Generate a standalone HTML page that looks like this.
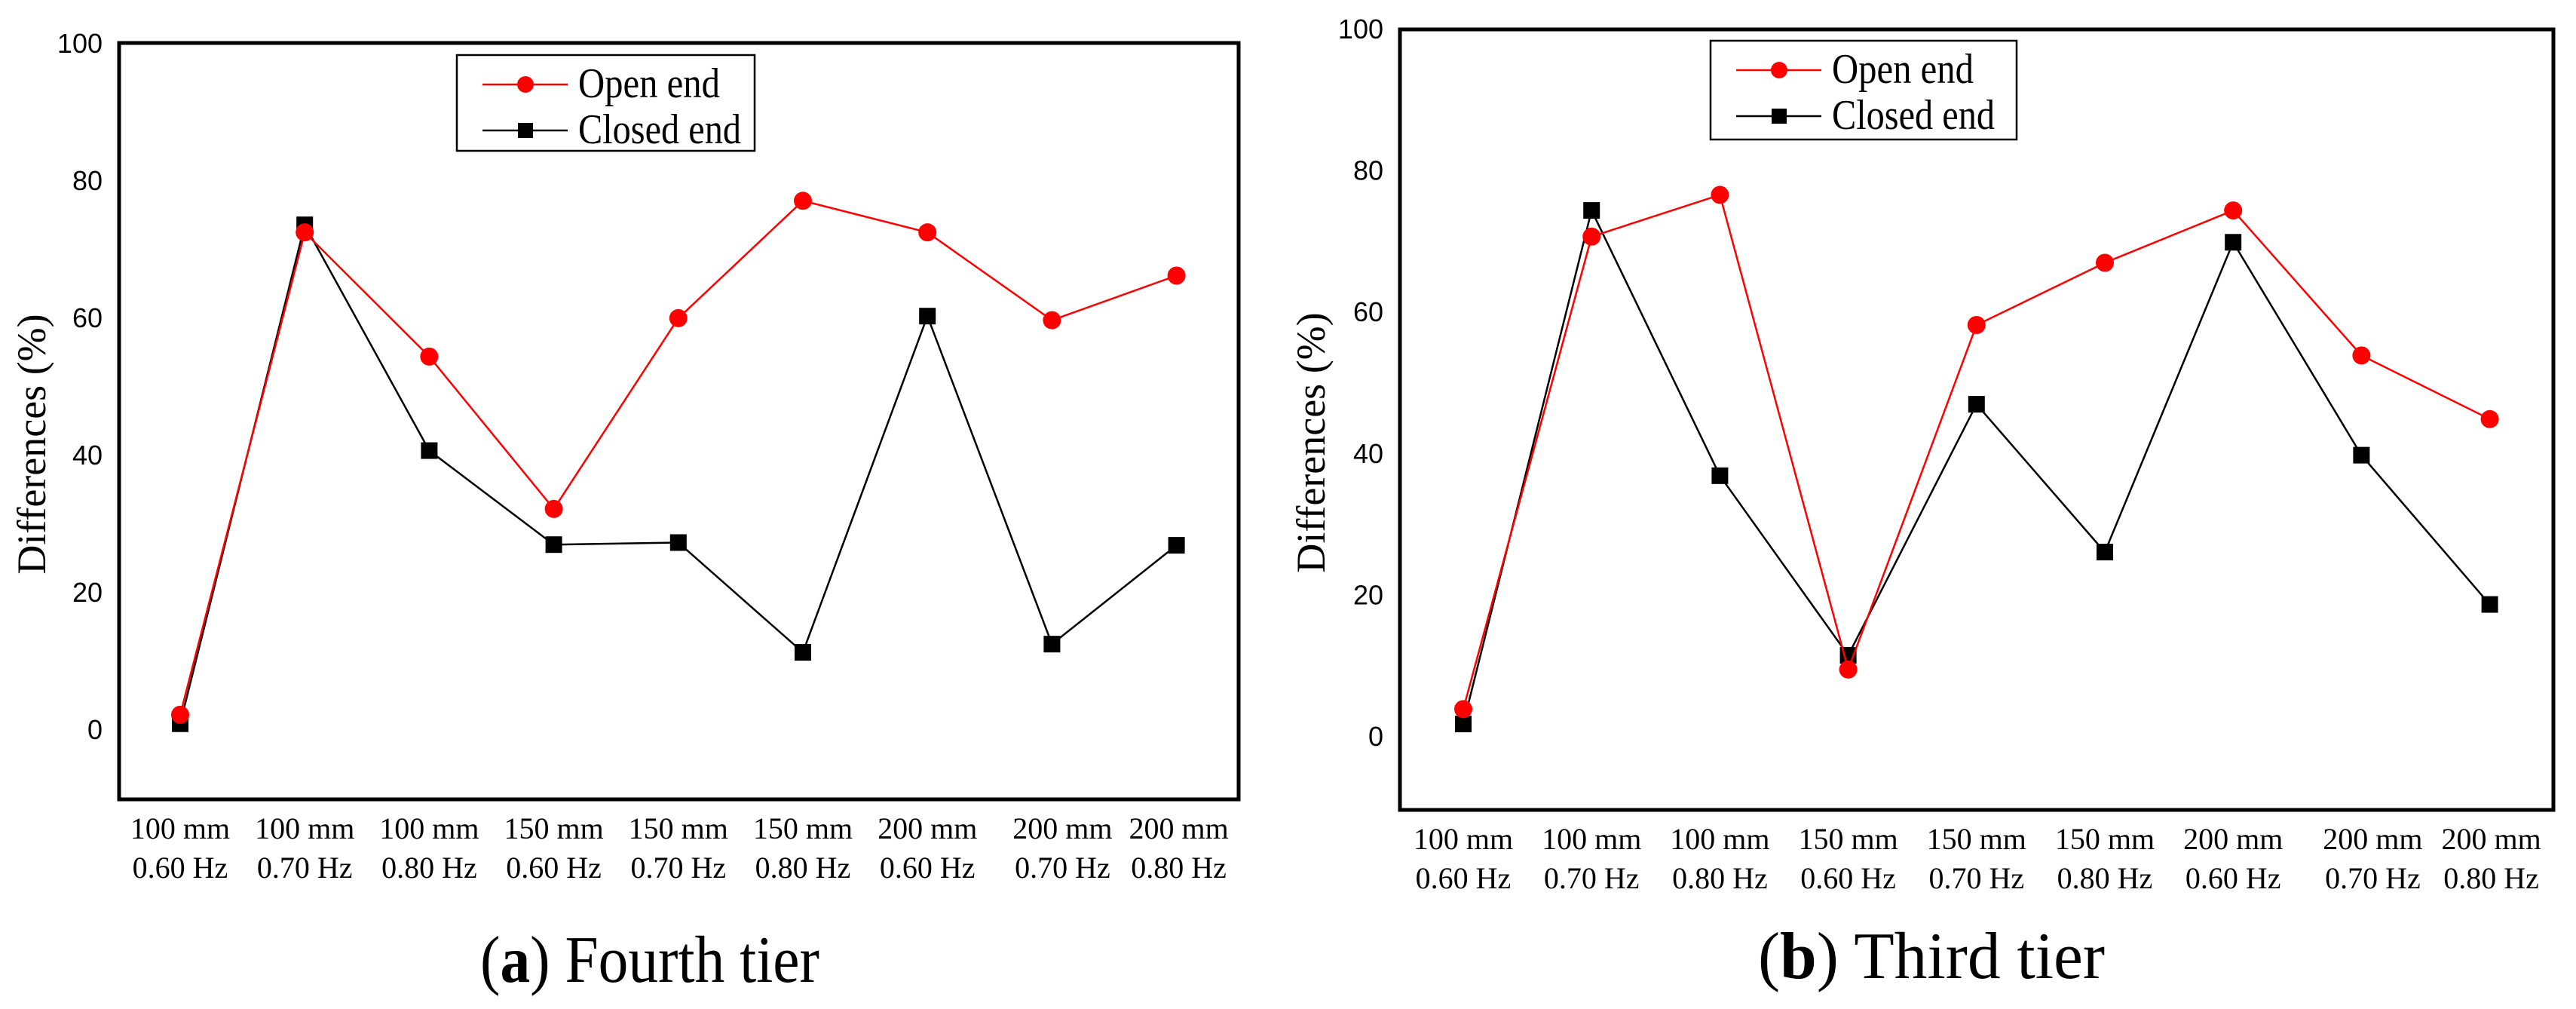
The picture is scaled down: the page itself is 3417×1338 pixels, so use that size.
<!DOCTYPE html>
<html><head><meta charset="utf-8">
<style>
html,body{margin:0;padding:0;background:#fff;}
svg{display:block;}
text{font-family:"Liberation Serif",serif;fill:#000;}
.tick{font-family:"Liberation Sans",sans-serif;font-size:36px;}
</style></head>
<body>
<svg id="fig" width="3417" height="1338" viewBox="0 0 3417 1338" xmlns="http://www.w3.org/2000/svg"></svg>
<script>
const categoriesL1 = ["100 mm","100 mm","100 mm","150 mm","150 mm","150 mm","200 mm","200 mm","200 mm"];
const categoriesL2 = ["0.60 Hz","0.70 Hz","0.80 Hz","0.60 Hz","0.70 Hz","0.80 Hz","0.60 Hz","0.70 Hz","0.80 Hz"];
const yTicks = [0,20,40,60,80,100];
const fourthOpen = [2.1,72.4,54.3,32.1,59.9,77.0,72.4,59.6,66.1];
const fourthClosed = [0.8,73.5,40.6,26.9,27.2,11.2,60.2,12.4,26.8];
const thirdOpen = [3.8,70.6,76.5,9.4,58.1,66.9,74.3,53.8,44.8];
const thirdClosed = [1.7,74.3,36.8,11.4,46.9,26.0,69.8,39.7,18.6];

const NS = "http://www.w3.org/2000/svg";
const svg = document.getElementById('fig');
function mk(tag, attrs, parent){
  const e = document.createElementNS(NS, tag);
  for (const k in attrs) e.setAttribute(k, attrs[k]);
  (parent||svg).appendChild(e);
  return e;
}
function panel(cfg){
  const g = mk('g', {});
  
  
  const y = v => cfg.y0 - v * cfg.ky;
  const x = i => cfg.x0 + i * cfg.dx;
  const box = mk('rect', {x:cfg.L, y:cfg.T, width:cfg.R-cfg.L, height:cfg.B-cfg.T, fill:'none', stroke:'#000', 'stroke-width':5}, g);
  
  
  yTicks.forEach(v => {
    const t = mk('text', {x:cfg.tickX, y:y(v)+13, 'text-anchor':'end', class:'tick'}, g);
    t.textContent = v;
    
    
  });
  const yt = mk('text', {x:0, y:0, 'text-anchor':'middle', 'font-size':54, transform:`translate(${cfg.ytX},${cfg.ytY}) rotate(-90)`}, g);
  yt.textContent = 'Differences (%)';
  
  
  categoriesL1.forEach((c, i) => {
    const t = mk('text', {x:x(i)+(cfg.lblShift[i]||0), y:cfg.lblY, 'text-anchor':'middle', 'font-size':40}, g);
    
    
    const a = mk('tspan', {x:x(i)+(cfg.lblShift[i]||0), dy:0}, t); a.textContent = c;
    const b = mk('tspan', {x:x(i)+(cfg.lblShift[i]||0), dy:52}, t); b.textContent = categoriesL2[i];
  });
  const pc = mk('polyline', {points: cfg.closed.map((v,i)=>x(i)+','+y(v)).join(' '), fill:'none', stroke:'#000', 'stroke-width':2.5}, g);
  
  
  cfg.closed.forEach((v,i) => {
    const r = mk('rect', {x:x(i)-11, y:y(v)-11, width:22, height:22, fill:'#000'}, g);
    
    
  });
  const po = mk('polyline', {points: cfg.open.map((v,i)=>x(i)+','+y(v)).join(' '), fill:'none', stroke:'#f00', 'stroke-width':2.5}, g);
  
  
  cfg.open.forEach((v,i) => {
    const c = mk('circle', {cx:x(i), cy:y(v), r:12, fill:'#f00'}, g);
    
    
  });
  const lg = mk('g', {}, g);
  
  
  const Lx = cfg.legX, Ly = cfg.legY;
  mk('rect', {x:Lx, y:Ly, width:cfg.legW, height:cfg.legH, fill:'#fff', stroke:'#000', 'stroke-width':2.5}, lg);
  const e1 = mk('g', {}, lg);
  
  
  mk('line', {x1:Lx+34, x2:Lx+147, y1:Ly+39, y2:Ly+39, stroke:'#f00', 'stroke-width':2.5}, e1);
  mk('circle', {cx:Lx+91, cy:Ly+39, r:11, fill:'#f00'}, e1);
  const t1 = mk('text', {x:Lx+161, y:Ly+56, 'font-size':56, textLength:188, lengthAdjust:'spacingAndGlyphs'}, e1);
  t1.textContent = 'Open end';
  const e2 = mk('g', {}, lg);
  
  
  mk('line', {x1:Lx+34, x2:Lx+147, y1:Ly+100, y2:Ly+100, stroke:'#000', 'stroke-width':2.5}, e2);
  mk('rect', {x:Lx+81, y:Ly+90, width:20, height:20, fill:'#000'}, e2);
  const t2 = mk('text', {x:Lx+161, y:Ly+117, 'font-size':56, textLength:216, lengthAdjust:'spacingAndGlyphs'}, e2);
  t2.textContent = 'Closed end';
  const cap = mk('text', {x:cfg.capX - cfg.capW/2, y:cfg.capY, 'font-size':88, textLength:cfg.capW, lengthAdjust:'spacingAndGlyphs'}, g);
  
  
  const cb = mk('tspan', {}, cap); cb.textContent = '(';
  const cbb = mk('tspan', {'font-weight':'bold'}, cap); cbb.textContent = cfg.letter;
  const cr = mk('tspan', {}, cap); cr.textContent = ') ' + cfg.caption;
}
panel({name:'chart-fourth-tier', L:158, R:1643, T:57, B:1060, y0:967, ky:9.1, x0:239, dx:165.2,
  tickX:136, ytX:60, ytY:589, lblY:1112, lblShift:[0,0,0,0,0,0,0,14,3],
  open:fourthOpen, closed:fourthClosed, legX:606, legY:73, legW:395, legH:127,
  capX:862, capW:450, capY:1302, letter:'a', caption:'Fourth tier'});
panel({name:'chart-third-tier', L:1857, R:3387, T:39, B:1074, y0:976, ky:9.38, x0:1941, dx:170.2,
  tickX:1835, ytX:1757, ytY:587, lblY:1126, lblShift:[0,0,0,0,0,0,0,15,2],
  open:thirdOpen, closed:thirdClosed, legX:2269, legY:54, legW:406, legH:131,
  capX:2562, capW:460, capY:1297, letter:'b', caption:'Third tier'});
</script>
</body></html>
